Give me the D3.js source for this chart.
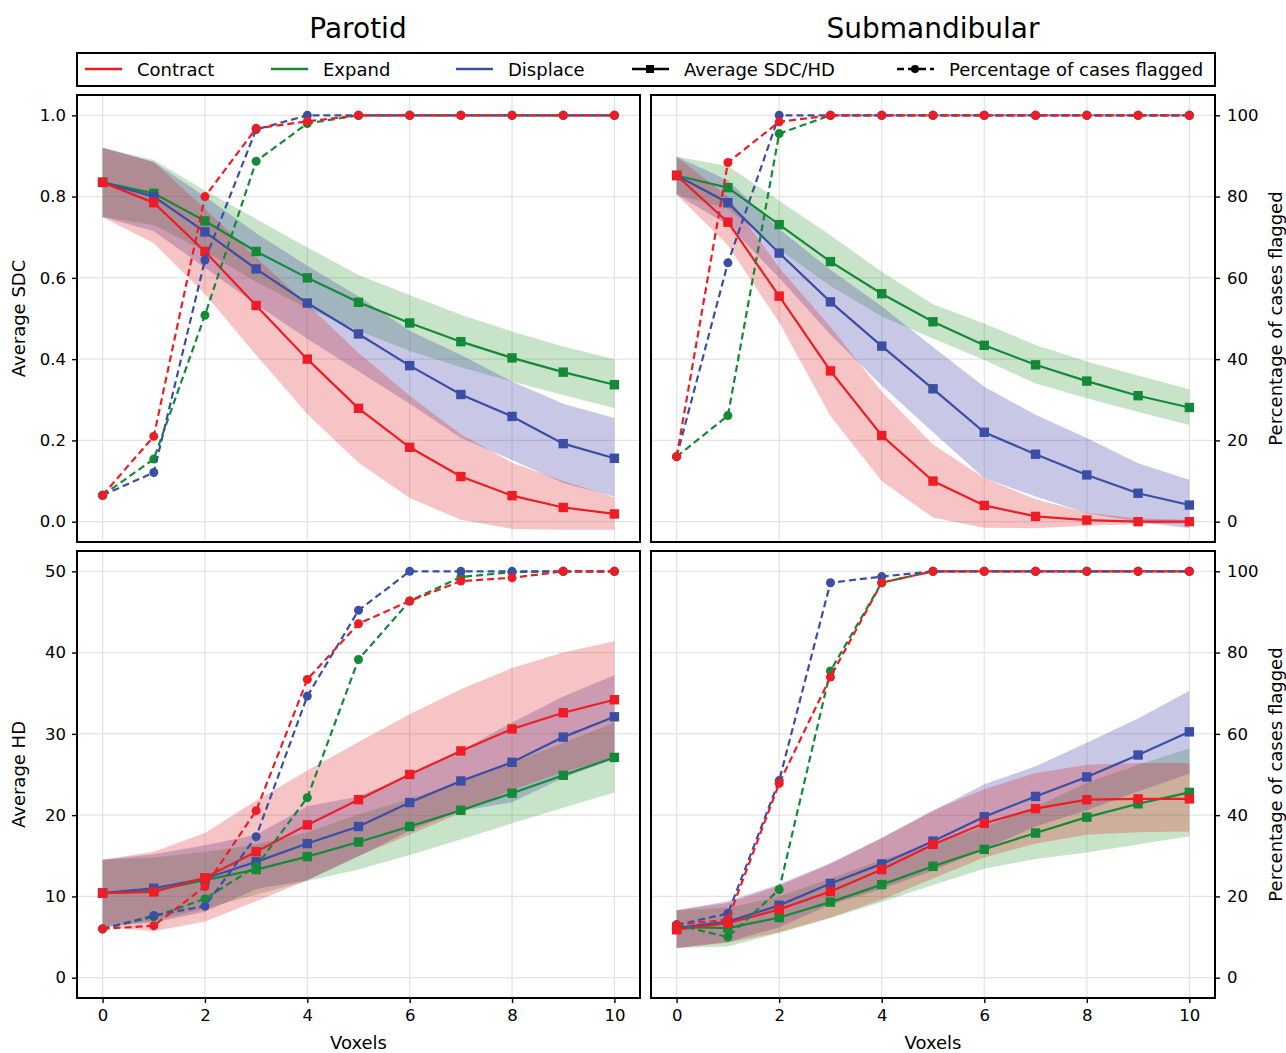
<!DOCTYPE html>
<html>
<head>
<meta charset="utf-8">
<script src="https://cdn.jsdelivr.net/npm/d3@7"></script>
<style>
  body { margin: 0; background: #fff; }
  svg { font-family: "DejaVu Sans", sans-serif; }
</style>
</head>
<body>
<div id="chart"></div>
<script>
var voxels = [0, 1, 2, 3, 4, 5, 6, 7, 8, 9, 10];

// Parotid - average SDC (mean, lower and upper edge of the band)
var parSdcContract   = [0.835, 0.785, 0.665, 0.532, 0.400, 0.279, 0.183, 0.111, 0.064, 0.035, 0.019];
var parSdcContractLo = [0.750, 0.685, 0.560, 0.410, 0.265, 0.145, 0.058, 0.005, -0.018, -0.020, -0.020];
var parSdcContractHi = [0.920, 0.885, 0.770, 0.650, 0.535, 0.415, 0.310, 0.215, 0.145, 0.100, 0.060];
var parSdcExpand     = [0.835, 0.808, 0.740, 0.665, 0.600, 0.540, 0.489, 0.443, 0.403, 0.368, 0.337];
var parSdcExpandLo   = [0.750, 0.730, 0.665, 0.590, 0.525, 0.470, 0.420, 0.380, 0.345, 0.312, 0.279];
var parSdcExpandHi   = [0.920, 0.890, 0.815, 0.745, 0.675, 0.607, 0.558, 0.509, 0.468, 0.431, 0.400];
var parSdcDisplace   = [0.835, 0.800, 0.713, 0.622, 0.538, 0.462, 0.384, 0.313, 0.259, 0.192, 0.156];
var parSdcDisplaceLo = [0.750, 0.715, 0.625, 0.535, 0.450, 0.370, 0.290, 0.206, 0.152, 0.095, 0.062];
var parSdcDisplaceHi = [0.920, 0.885, 0.800, 0.710, 0.630, 0.555, 0.470, 0.410, 0.345, 0.290, 0.255];
// Parotid - percentage of cases flagged (SDC)
var parSdcPctContract = [6.5, 21.0, 80.0, 96.8, 98.5, 100, 100, 100, 100, 100, 100];
var parSdcPctExpand   = [6.5, 15.4, 50.8, 88.7, 98.0, 100, 100, 100, 100, 100, 100];
var parSdcPctDisplace = [6.5, 12.1, 64.4, 96.5, 100, 100, 100, 100, 100, 100, 100];

// Submandibular - average SDC
var subSdcContract   = [0.852, 0.737, 0.555, 0.371, 0.212, 0.100, 0.040, 0.013, 0.004, 0.000, 0.000];
var subSdcContractLo = [0.805, 0.680, 0.490, 0.260, 0.100, 0.010, -0.015, -0.016, -0.010, -0.006, -0.005];
var subSdcContractHi = [0.898, 0.800, 0.625, 0.480, 0.320, 0.190, 0.107, 0.055, 0.022, 0.008, 0.005];
var subSdcExpand     = [0.852, 0.822, 0.731, 0.640, 0.561, 0.492, 0.434, 0.386, 0.346, 0.310, 0.281];
var subSdcExpandLo   = [0.805, 0.770, 0.670, 0.580, 0.505, 0.451, 0.398, 0.340, 0.304, 0.270, 0.238];
var subSdcExpandHi   = [0.898, 0.875, 0.790, 0.705, 0.615, 0.535, 0.488, 0.435, 0.394, 0.360, 0.326];
var subSdcDisplace   = [0.852, 0.785, 0.661, 0.541, 0.432, 0.327, 0.220, 0.166, 0.115, 0.070, 0.041];
var subSdcDisplaceLo = [0.805, 0.730, 0.600, 0.460, 0.335, 0.220, 0.107, 0.062, 0.021, 0.000, -0.016];
var subSdcDisplaceHi = [0.898, 0.840, 0.720, 0.620, 0.530, 0.430, 0.332, 0.263, 0.206, 0.144, 0.103];
var subSdcPctContract = [16.0, 88.4, 98.4, 100, 100, 100, 100, 100, 100, 100, 100];
var subSdcPctExpand   = [16.0, 26.1, 95.5, 100, 100, 100, 100, 100, 100, 100, 100];
var subSdcPctDisplace = [16.0, 63.7, 100, 100, 100, 100, 100, 100, 100, 100, 100];

// Parotid - average HD
var parHdContract   = [10.4, 10.55, 12.3, 15.5, 18.8, 21.9, 25.0, 27.9, 30.6, 32.6, 34.2];
var parHdContractLo = [6.3, 5.7, 6.9, 9.4, 12.0, 15.0, 17.6, 20.3, 23.1, 25.3, 27.0];
var parHdContractHi = [14.5, 15.5, 17.8, 21.8, 25.5, 29.0, 32.4, 35.5, 38.1, 40.0, 41.4];
var parHdExpand     = [10.4, 10.7, 12.0, 13.3, 14.9, 16.7, 18.6, 20.6, 22.7, 24.9, 27.1];
var parHdExpandLo   = [6.3, 7.0, 8.5, 10.2, 11.9, 13.3, 15.1, 17.0, 19.0, 20.9, 22.8];
var parHdExpandHi   = [14.5, 14.8, 15.5, 16.4, 17.9, 20.1, 22.0, 24.2, 26.4, 28.9, 31.4];
var parHdDisplace   = [10.4, 11.0, 12.2, 14.25, 16.5, 18.6, 21.55, 24.2, 26.5, 29.6, 32.1];
var parHdDisplaceLo = [6.3, 6.8, 8.1, 10.9, 12.0, 14.9, 18.1, 20.5, 21.6, 24.6, 26.9];
var parHdDisplaceHi = [14.5, 15.2, 16.3, 17.6, 21.1, 22.3, 25.0, 27.9, 31.4, 34.6, 37.2];
var parHdPctContract = [12.0, 12.8, 22.4, 41.1, 73.4, 87.1, 92.7, 97.6, 98.4, 100, 100];
var parHdPctExpand   = [12.0, 15.0, 19.4, 27.4, 44.3, 78.3, 92.7, 98.6, 99.8, 100, 100];
var parHdPctDisplace = [12.0, 15.3, 17.6, 34.7, 69.3, 90.4, 100, 100, 100, 100, 100];

// Submandibular - average HD
var subHdContract   = [5.9, 6.7, 8.4, 10.6, 13.3, 16.4, 19.0, 20.8, 21.9, 22.0, 22.0];
var subHdContractLo = [3.65, 4.3, 5.6, 7.4, 9.6, 12.2, 14.8, 16.5, 17.6, 17.9, 18.0];
var subHdContractHi = [8.3, 9.2, 11.3, 14.0, 17.2, 20.6, 23.2, 25.2, 26.2, 26.4, 26.4];
var subHdExpand     = [6.25, 6.1, 7.4, 9.3, 11.45, 13.7, 15.8, 17.8, 19.75, 21.4, 22.8];
var subHdExpandLo   = [3.65, 3.85, 5.5, 7.3, 9.3, 11.4, 13.4, 14.6, 15.4, 16.4, 17.4];
var subHdExpandHi   = [8.3, 8.6, 10.0, 12.2, 14.5, 16.4, 18.6, 21.0, 24.0, 26.2, 28.2];
var subHdDisplace   = [6.1, 6.9, 8.9, 11.6, 14.0, 16.8, 19.8, 22.3, 24.7, 27.4, 30.25];
var subHdDisplaceLo = [3.65, 4.4, 6.2, 9.0, 10.9, 13.2, 15.8, 18.6, 20.6, 22.9, 25.1];
var subHdDisplaceHi = [8.3, 9.4, 11.5, 14.1, 17.2, 20.5, 23.8, 26.0, 28.9, 31.9, 35.3];
var subHdPctContract = [13.0, 14.3, 47.8, 74.0, 97.2, 100, 100, 100, 100, 100, 100];
var subHdPctExpand   = [13.0, 10.0, 21.7, 75.5, 97.2, 100, 100, 100, 100, 100, 100];
var subHdPctDisplace = [13.0, 15.8, 48.5, 97.2, 98.7, 100, 100, 100, 100, 100, 100];

var xTicks = [0, 2, 4, 6, 8, 10];
var sdcTicks = [0, 0.2, 0.4, 0.6, 0.8, 1.0];
var hdTicks = [0, 10, 20, 30, 40, 50];
var pctTicks = [0, 20, 40, 60, 80, 100];

var colors = { contract: "#ee1d25", expand: "#138a37", displace: "#3a4ea6" };
var fills  = { contract: ["#db1313", 0.25], expand: ["#239323", 0.25], displace: ["#4848ac", 0.3] };

var width = 1286, height = 1053;

var svg = d3.select("#chart").append("svg")
    .attr("width", width)
    .attr("height", height);

// column titles
svg.append("text").attr("x", 358).attr("y", 38).attr("text-anchor", "middle")
    .style("font-size", "28px").text("Parotid");
svg.append("text").attr("x", 933).attr("y", 38).attr("text-anchor", "middle")
    .style("font-size", "28px").text("Submandibular");

// legend
var legend = svg.append("g");
legend.append("rect").attr("x", 77).attr("y", 53).attr("width", 1138).attr("height", 33)
    .attr("fill", "#fff").attr("stroke", "#000").attr("stroke-width", 2);
var legItems = [
  { x: 85, label: "Contract", color: colors.contract },
  { x: 271, label: "Expand", color: colors.expand },
  { x: 456, label: "Displace", color: colors.displace },
  { x: 632, label: "Average SDC/HD", color: "#000", marker: "square" },
  { x: 897, label: "Percentage of cases flagged", color: "#000", marker: "circle", dash: true }
];
legItems.forEach(function(d) {
  legend.append("line").attr("x1", d.x).attr("x2", d.x + 37).attr("y1", 69).attr("y2", 69)
      .attr("stroke", d.color).attr("stroke-width", 2.6)
      .attr("stroke-dasharray", d.dash ? "7,4" : null);
  if (d.marker == "square") {
    legend.append("rect").attr("x", d.x + 14).attr("y", 65).attr("width", 8).attr("height", 8).attr("fill", d.color);
  } else if (d.marker == "circle") {
    legend.append("circle").attr("cx", d.x + 18).attr("cy", 69).attr("r", 4).attr("fill", d.color);
  }
  legend.append("text").attr("x", d.x + 52).attr("y", 75.5)
      .style("font-size", "18px").text(d.label);
});

var panels = [
  { x0: 77, x1: 640, y0: 95, y1: 542, left: true, bottom: false, yDom: [-0.05, 1.05], yTicks: sdcTicks,
    fmt: d3.format(".1f"), ylabel: "Average SDC",
    series: [
      { key: "expand", mean: parSdcExpand, lo: parSdcExpandLo, hi: parSdcExpandHi, pct: parSdcPctExpand },
      { key: "displace", mean: parSdcDisplace, lo: parSdcDisplaceLo, hi: parSdcDisplaceHi, pct: parSdcPctDisplace },
      { key: "contract", mean: parSdcContract, lo: parSdcContractLo, hi: parSdcContractHi, pct: parSdcPctContract }
    ] },
  { x0: 651, x1: 1215, y0: 95, y1: 542, left: false, bottom: false, yDom: [-0.05, 1.05], yTicks: sdcTicks,
    series: [
      { key: "expand", mean: subSdcExpand, lo: subSdcExpandLo, hi: subSdcExpandHi, pct: subSdcPctExpand },
      { key: "displace", mean: subSdcDisplace, lo: subSdcDisplaceLo, hi: subSdcDisplaceHi, pct: subSdcPctDisplace },
      { key: "contract", mean: subSdcContract, lo: subSdcContractLo, hi: subSdcContractHi, pct: subSdcPctContract }
    ] },
  { x0: 77, x1: 640, y0: 551, y1: 998, left: true, bottom: true, yDom: [-2.5, 52.5], yTicks: hdTicks,
    fmt: d3.format("d"), ylabel: "Average HD",
    series: [
      { key: "expand", mean: parHdExpand, lo: parHdExpandLo, hi: parHdExpandHi, pct: parHdPctExpand },
      { key: "displace", mean: parHdDisplace, lo: parHdDisplaceLo, hi: parHdDisplaceHi, pct: parHdPctDisplace },
      { key: "contract", mean: parHdContract, lo: parHdContractLo, hi: parHdContractHi, pct: parHdPctContract }
    ] },
  { x0: 651, x1: 1215, y0: 551, y1: 998, left: false, bottom: true, yDom: [-2.5, 52.5], yTicks: hdTicks,
    series: [
      { key: "expand", mean: subHdExpand, lo: subHdExpandLo, hi: subHdExpandHi, pct: subHdPctExpand },
      { key: "displace", mean: subHdDisplace, lo: subHdDisplaceLo, hi: subHdDisplaceHi, pct: subHdPctDisplace },
      { key: "contract", mean: subHdContract, lo: subHdContractLo, hi: subHdContractHi, pct: subHdPctContract }
    ] }
];

panels.forEach(function(p) {
  var x = d3.scaleLinear().domain([-0.5, 10.5]).range([p.x0, p.x1]);
  var y = d3.scaleLinear().domain(p.yDom).range([p.y1, p.y0]);
  var yp = d3.scaleLinear().domain([-5, 105]).range([p.y1, p.y0]);

  var g = svg.append("g");

  // grid
  g.selectAll(".gx").data(xTicks).enter().append("line")
      .attr("x1", d => x(d)).attr("x2", d => x(d)).attr("y1", p.y0).attr("y2", p.y1)
      .attr("stroke", "#e3e3e3").attr("stroke-width", 1.2);
  g.selectAll(".gy").data(p.yTicks).enter().append("line")
      .attr("x1", p.x0).attr("x2", p.x1).attr("y1", d => y(d)).attr("y2", d => y(d))
      .attr("stroke", "#e3e3e3").attr("stroke-width", 1.2);

  var area = d3.area()
      .x((d, i) => x(voxels[i]))
      .y0(d => y(d[0]))
      .y1(d => y(d[1]));
  var line = d3.line().x((d, i) => x(voxels[i])).y(d => y(d));
  var pline = d3.line().x((d, i) => x(voxels[i])).y(d => yp(d));

  // shaded bands
  p.series.forEach(function(s) {
    var band = s.lo.map((v, i) => [v, s.hi[i]]);
    g.append("path").datum(band).attr("d", area)
        .attr("fill", fills[s.key][0]).attr("fill-opacity", fills[s.key][1]);
  });

  // averages
  p.series.forEach(function(s) {
    g.append("path").datum(s.mean).attr("d", line)
        .attr("fill", "none").attr("stroke", colors[s.key]).attr("stroke-width", 2.2);
    g.selectAll(null).data(s.mean).enter().append("rect")
        .attr("x", (d, i) => x(voxels[i]) - 4.7).attr("y", d => y(d) - 4.7)
        .attr("width", 9.4).attr("height", 9.4).attr("fill", colors[s.key]);
  });

  // percentage flagged
  p.series.forEach(function(s) {
    g.append("path").datum(s.pct).attr("d", pline)
        .attr("fill", "none").attr("stroke", colors[s.key]).attr("stroke-width", 2.2)
        .attr("stroke-dasharray", "7,4");
    g.selectAll(null).data(s.pct).enter().append("circle")
        .attr("cx", (d, i) => x(voxels[i])).attr("cy", d => yp(d))
        .attr("r", 4.5).attr("fill", colors[s.key]);
  });

  // frame
  g.append("rect").attr("x", p.x0).attr("y", p.y0)
      .attr("width", p.x1 - p.x0).attr("height", p.y1 - p.y0)
      .attr("fill", "none").attr("stroke", "#000").attr("stroke-width", 2);

  // axes
  var tickStyle = function(ax) {
    ax.select(".domain").remove();
    ax.selectAll(".tick line").attr("stroke", "#000").attr("stroke-width", 1.4);
    ax.selectAll(".tick text").style("font-size", "16.5px").attr("fill", "#000")
        .style("font-family", "DejaVu Sans, sans-serif");
  };
  if (p.left) {
    g.append("g").attr("transform", "translate(" + p.x0 + ",0)")
        .call(d3.axisLeft(y).tickValues(p.yTicks).tickFormat(p.fmt).tickSize(5).tickPadding(6))
        .call(tickStyle);
    g.append("text")
        .attr("transform", "translate(" + 25 + "," + ((p.y0 + p.y1) / 2) + ") rotate(-90)")
        .attr("text-anchor", "middle").style("font-size", "18px").text(p.ylabel);
  } else {
    g.append("g").attr("transform", "translate(" + p.x1 + ",0)")
        .call(d3.axisRight(yp).tickValues(pctTicks).tickFormat(d3.format("d")).tickSize(5).tickPadding(7))
        .call(tickStyle);
    g.append("text")
        .attr("transform", "translate(" + 1282 + "," + ((p.y0 + p.y1) / 2) + ") rotate(-90)")
        .attr("text-anchor", "middle").style("font-size", "18px").text("Percentage of cases flagged");
  }
  if (p.bottom) {
    g.append("g").attr("transform", "translate(0," + p.y1 + ")")
        .call(d3.axisBottom(x).tickValues(xTicks).tickFormat(d3.format("d")).tickSize(5).tickPadding(6))
        .call(tickStyle);
    g.append("text").attr("x", (p.x0 + p.x1) / 2).attr("y", 1049)
        .attr("text-anchor", "middle").style("font-size", "18px").text("Voxels");
  }
});
</script>
</body>
</html>
